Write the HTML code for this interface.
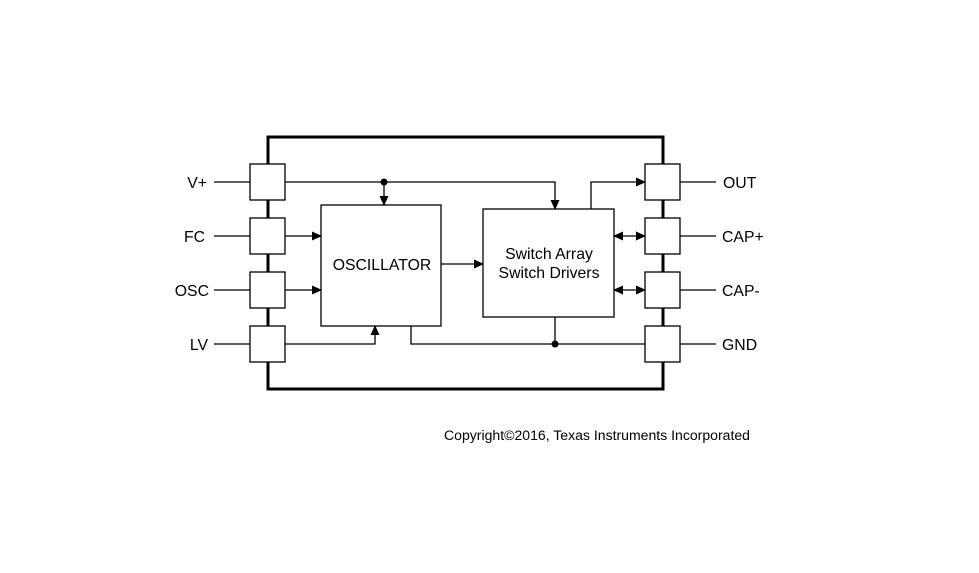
<!DOCTYPE html>
<html><head><meta charset="utf-8"><style>
html,body{margin:0;padding:0;background:#fff;width:979px;height:573px;overflow:hidden}
text{font-family:"Liberation Sans",Arial,sans-serif;fill:#000}
</style></head><body>
<svg width="979" height="573" viewBox="0 0 979 573" xmlns="http://www.w3.org/2000/svg">
<defs>
<marker id="a" markerWidth="10" markerHeight="10" refX="9" refY="5" orient="auto" markerUnits="userSpaceOnUse">
<path d="M0,0.5 L10,5 L0,9.5 Z" fill="#000"/></marker>
<marker id="s" markerWidth="10" markerHeight="10" refX="1" refY="5" orient="auto" markerUnits="userSpaceOnUse">
<path d="M10,0.5 L0,5 L10,9.5 Z" fill="#000"/></marker>
</defs>
<rect x="268" y="137" width="395" height="252" fill="none" stroke="#000" stroke-width="3"/>
<g fill="#fff" stroke="#000" stroke-width="1.3">
<rect x="250" y="164" width="35" height="36"/>
<rect x="250" y="218" width="35" height="36"/>
<rect x="250" y="272" width="35" height="36"/>
<rect x="250" y="326" width="35" height="36"/>
<rect x="645" y="164" width="35" height="36"/>
<rect x="645" y="218" width="35" height="36"/>
<rect x="645" y="272" width="35" height="36"/>
<rect x="645" y="326" width="35" height="36"/>
<rect x="321" y="205" width="120" height="121"/>
<rect x="483" y="209" width="131" height="108"/>
</g>
<g stroke="#000" stroke-width="1.3" fill="none">
<line x1="214" y1="182" x2="250" y2="182"/>
<line x1="214" y1="236" x2="250" y2="236"/>
<line x1="214" y1="290" x2="250" y2="290"/>
<line x1="214" y1="344" x2="250" y2="344"/>
<line x1="680" y1="182" x2="716" y2="182"/>
<line x1="680" y1="236" x2="716" y2="236"/>
<line x1="680" y1="290" x2="716" y2="290"/>
<line x1="680" y1="344" x2="716" y2="344"/>
<polyline points="285,182 555,182 555,209" marker-end="url(#a)"/>
<line x1="384" y1="182" x2="384" y2="205" marker-end="url(#a)"/>
<line x1="285" y1="236" x2="321" y2="236" marker-end="url(#a)"/>
<line x1="285" y1="290" x2="321" y2="290" marker-end="url(#a)"/>
<polyline points="285,344 375,344 375,326" marker-end="url(#a)"/>
<line x1="441" y1="264" x2="483" y2="264" marker-end="url(#a)"/>
<polyline points="591,209 591,182 645,182" marker-end="url(#a)"/>
<line x1="614" y1="236" x2="645" y2="236" marker-start="url(#s)" marker-end="url(#a)"/>
<line x1="614" y1="290" x2="645" y2="290" marker-start="url(#s)" marker-end="url(#a)"/>
<polyline points="411,326 411,344 645,344"/>
<line x1="555" y1="317" x2="555" y2="344"/>
</g>
<circle cx="384" cy="182" r="3.5" fill="#000"/>
<circle cx="555" cy="344" r="3.5" fill="#000"/>
<g font-size="15.8">
<text x="207" y="188" text-anchor="end">V+</text>
<text x="205" y="242" text-anchor="end">FC</text>
<text x="209" y="296" text-anchor="end">OSC</text>
<text x="208" y="350" text-anchor="end">LV</text>
<text x="723" y="188">OUT</text>
<text x="722" y="242">CAP+</text>
<text x="722" y="296">CAP-</text>
<text x="722" y="350">GND</text>
<text x="382" y="270" text-anchor="middle">OSCILLATOR</text>
<text x="549" y="259" text-anchor="middle">Switch Array</text>
<text x="549" y="278" text-anchor="middle">Switch Drivers</text>
</g>
<text x="444" y="440" font-size="13.5" textLength="306" lengthAdjust="spacingAndGlyphs">Copyright©2016, Texas Instruments Incorporated</text>
</svg>
</body></html>
